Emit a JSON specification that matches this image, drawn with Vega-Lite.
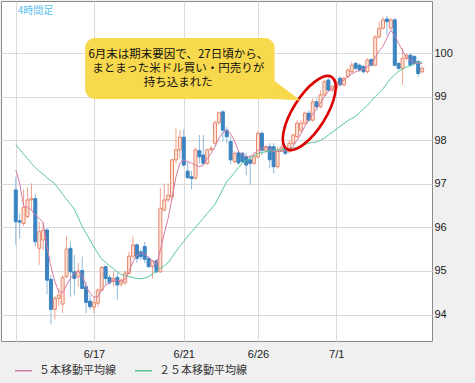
{
 "$schema": "https://vega.github.io/schema/vega-lite/v6.json",
 "width": 431, "height": 340,
 "autosize": {"type": "none"},
 "padding": {"left": 1, "top": 1, "right": 43, "bottom": 42},
 "background": "#f0f0f0",
 "config": {
  "view": {"fill": "#ffffff", "stroke": "#8c8c8c", "strokeWidth": 1},
  "axis": {"gridColor": "#dadada", "gridWidth": 1, "domain": false, "ticks": false, "labelFont": "Liberation Sans", "labelFontSize": 11, "labelColor": "#222222"},
  "legend": {"orient": "none", "legendX": 13, "legendY": 360, "direction": "horizontal", "symbolType": "stroke", "symbolSize": 289, "symbolStrokeWidth": 1.5, "labelFont": "Noto Sans CJK JP", "labelFontSize": 11, "labelColor": "#333333", "columnPadding": 16, "labelOffset": 6, "padding": 0}
 },
 "datasets": {
  "candles": [
   {"i":0,"o":96.86,"h":97.16,"l":95.60,"c":96.13,"m5":97.32,"m25":97.90},
   {"i":1,"o":96.15,"h":96.32,"l":95.75,"c":96.12,"m5":97.01,"m25":97.79},
   {"i":2,"o":96.09,"h":96.87,"l":96.03,"c":96.46,"m5":96.49,"m25":97.68},
   {"i":3,"o":96.25,"h":96.92,"l":96.21,"c":96.63,"m5":96.46,"m25":97.58},
   {"i":4,"o":96.63,"h":97.01,"l":96.40,"c":96.66,"m5":96.40,"m25":97.47},
   {"i":5,"o":96.66,"h":96.77,"l":95.56,"c":95.67,"m5":96.28,"m25":97.37},
   {"i":6,"o":95.52,"h":96.13,"l":95.14,"c":95.90,"m5":96.21,"m25":97.29},
   {"i":7,"o":95.71,"h":96.12,"l":95.48,"c":95.94,"m5":96.11,"m25":97.22},
   {"i":8,"o":95.94,"h":95.98,"l":94.47,"c":94.79,"m5":95.56,"m25":97.14},
   {"i":9,"o":94.81,"h":94.91,"l":93.78,"c":94.12,"m5":95.10,"m25":97.07},
   {"i":10,"o":94.12,"h":94.43,"l":93.89,"c":94.37,"m5":94.76,"m25":97.00},
   {"i":11,"o":94.37,"h":94.60,"l":94.20,"c":94.45,"m5":94.53,"m25":96.88},
   {"i":12,"o":94.24,"h":94.91,"l":94.03,"c":94.85,"m5":94.50,"m25":96.76},
   {"i":13,"o":94.87,"h":95.80,"l":94.83,"c":95.50,"m5":94.68,"m25":96.65},
   {"i":14,"o":95.52,"h":95.67,"l":94.41,"c":94.98,"m5":94.83,"m25":96.53},
   {"i":15,"o":94.98,"h":95.37,"l":94.45,"c":94.83,"m5":94.95,"m25":96.42},
   {"i":16,"o":94.87,"h":95.18,"l":94.64,"c":95.00,"m5":94.99,"m25":96.22},
   {"i":17,"o":95.01,"h":95.33,"l":94.58,"c":94.60,"m5":94.91,"m25":96.02},
   {"i":18,"o":94.64,"h":94.76,"l":94.03,"c":94.28,"m5":94.64,"m25":95.86},
   {"i":19,"o":94.31,"h":94.45,"l":94.11,"c":94.18,"m5":94.49,"m25":95.71},
   {"i":20,"o":94.17,"h":94.41,"l":94.03,"c":94.28,"m5":94.40,"m25":95.55},
   {"i":21,"o":94.26,"h":94.60,"l":94.18,"c":94.56,"m5":94.41,"m25":95.41},
   {"i":22,"o":94.56,"h":95.11,"l":94.53,"c":95.08,"m5":94.56,"m25":95.27},
   {"i":23,"o":95.10,"h":95.12,"l":94.68,"c":94.83,"m5":94.68,"m25":95.20},
   {"i":24,"o":94.85,"h":94.91,"l":94.68,"c":94.73,"m5":94.73,"m25":95.12},
   {"i":25,"o":94.76,"h":94.99,"l":94.64,"c":94.83,"m5":94.79,"m25":95.05},
   {"i":26,"o":94.85,"h":94.95,"l":94.34,"c":94.68,"m5":94.79,"m25":94.98},
   {"i":27,"o":94.70,"h":94.83,"l":94.64,"c":94.79,"m5":94.76,"m25":94.92},
   {"i":28,"o":94.73,"h":95.01,"l":94.68,"c":94.95,"m5":94.81,"m25":94.89},
   {"i":29,"o":94.95,"h":95.44,"l":94.91,"c":95.34,"m5":94.99,"m25":94.87},
   {"i":30,"o":95.34,"h":95.79,"l":95.29,"c":95.60,"m5":95.21,"m25":94.85},
   {"i":31,"o":95.60,"h":95.63,"l":95.18,"c":95.29,"m5":95.37,"m25":94.83},
   {"i":32,"o":95.44,"h":95.48,"l":95.25,"c":95.33,"m5":95.42,"m25":94.82},
   {"i":33,"o":95.56,"h":95.67,"l":95.18,"c":95.27,"m5":95.39,"m25":94.84},
   {"i":34,"o":95.29,"h":95.33,"l":95.06,"c":95.10,"m5":95.31,"m25":94.87},
   {"i":35,"o":95.10,"h":95.25,"l":94.83,"c":95.23,"m5":95.24,"m25":94.93},
   {"i":36,"o":95.23,"h":95.27,"l":94.95,"c":94.98,"m5":95.14,"m25":95.00},
   {"i":37,"o":94.98,"h":96.90,"l":94.96,"c":96.44,"m5":95.48,"m25":95.06},
   {"i":38,"o":96.40,"h":97.01,"l":96.36,"c":96.63,"m5":95.86,"m25":95.12},
   {"i":39,"o":96.63,"h":97.01,"l":96.59,"c":96.74,"m5":96.21,"m25":95.19},
   {"i":40,"o":96.70,"h":97.57,"l":96.63,"c":97.55,"m5":96.67,"m25":95.32},
   {"i":41,"o":97.55,"h":98.27,"l":97.47,"c":97.78,"m5":97.16,"m25":95.45},
   {"i":42,"o":97.78,"h":98.23,"l":97.58,"c":98.07,"m5":97.47,"m25":95.57},
   {"i":43,"o":98.07,"h":98.25,"l":97.39,"c":97.43,"m5":97.55,"m25":95.68},
   {"i":44,"o":97.29,"h":97.51,"l":97.11,"c":97.14,"m5":97.51,"m25":95.80},
   {"i":45,"o":97.16,"h":97.30,"l":96.87,"c":97.12,"m5":97.47,"m25":95.90},
   {"i":46,"o":97.13,"h":97.83,"l":97.09,"c":97.78,"m5":97.43,"m25":96.00},
   {"i":47,"o":97.76,"h":98.12,"l":97.47,"c":97.62,"m5":97.39,"m25":96.11},
   {"i":48,"o":97.66,"h":98.12,"l":97.43,"c":97.47,"m5":97.43,"m25":96.21},
   {"i":49,"o":97.47,"h":97.81,"l":97.43,"c":97.78,"m5":97.58,"m25":96.32},
   {"i":50,"o":97.79,"h":97.88,"l":97.74,"c":97.81,"m5":97.70,"m25":96.42},
   {"i":51,"o":97.93,"h":98.45,"l":97.88,"c":98.40,"m5":97.85,"m25":96.53},
   {"i":52,"o":98.40,"h":98.66,"l":98.36,"c":98.63,"m5":98.05,"m25":96.70},
   {"i":53,"o":98.65,"h":98.69,"l":97.97,"c":98.23,"m5":98.17,"m25":96.88},
   {"i":54,"o":98.23,"h":98.30,"l":97.93,"c":98.08,"m5":98.23,"m25":97.05},
   {"i":55,"o":97.97,"h":98.08,"l":97.45,"c":97.55,"m5":98.15,"m25":97.15},
   {"i":56,"o":97.51,"h":97.74,"l":97.47,"c":97.70,"m5":97.98,"m25":97.26},
   {"i":57,"o":97.71,"h":97.75,"l":97.43,"c":97.48,"m5":97.75,"m25":97.37},
   {"i":58,"o":97.70,"h":97.74,"l":97.47,"c":97.51,"m5":97.66,"m25":97.47},
   {"i":59,"o":97.62,"h":97.70,"l":97.20,"c":97.43,"m5":97.62,"m25":97.53},
   {"i":60,"o":97.55,"h":97.66,"l":96.97,"c":97.47,"m5":97.62,"m25":97.59},
   {"i":61,"o":97.47,"h":97.74,"l":97.43,"c":97.62,"m5":97.68,"m25":97.64},
   {"i":62,"o":97.62,"h":98.20,"l":97.58,"c":98.16,"m5":97.77,"m25":97.70},
   {"i":63,"o":98.16,"h":98.20,"l":97.66,"c":97.77,"m5":97.82,"m25":97.72},
   {"i":64,"o":97.77,"h":97.89,"l":97.70,"c":97.85,"m5":97.85,"m25":97.74},
   {"i":65,"o":97.85,"h":97.93,"l":97.35,"c":97.55,"m5":97.80,"m25":97.75},
   {"i":66,"o":97.85,"h":97.93,"l":97.24,"c":97.39,"m5":97.74,"m25":97.77},
   {"i":67,"o":97.39,"h":97.85,"l":97.35,"c":97.77,"m5":97.74,"m25":97.78},
   {"i":68,"o":97.77,"h":97.89,"l":97.74,"c":97.83,"m5":97.74,"m25":97.78},
   {"i":69,"o":97.83,"h":97.89,"l":97.66,"c":97.70,"m5":97.76,"m25":97.79},
   {"i":70,"o":97.74,"h":98.00,"l":97.70,"c":97.93,"m5":97.80,"m25":97.80},
   {"i":71,"o":97.93,"h":98.16,"l":97.89,"c":98.12,"m5":97.86,"m25":97.82},
   {"i":72,"o":98.08,"h":98.46,"l":98.04,"c":98.39,"m5":98.00,"m25":97.84},
   {"i":73,"o":98.23,"h":98.46,"l":98.16,"c":98.39,"m5":98.15,"m25":97.87},
   {"i":74,"o":98.39,"h":98.66,"l":98.35,"c":98.62,"m5":98.32,"m25":97.90},
   {"i":75,"o":98.62,"h":98.69,"l":98.42,"c":98.46,"m5":98.45,"m25":97.93},
   {"i":76,"o":98.46,"h":98.96,"l":98.42,"c":98.88,"m5":98.60,"m25":97.95},
   {"i":77,"o":98.88,"h":98.96,"l":98.69,"c":98.77,"m5":98.72,"m25":97.96},
   {"i":78,"o":98.77,"h":99.15,"l":98.73,"c":99.04,"m5":98.85,"m25":98.00},
   {"i":79,"o":99.04,"h":99.38,"l":99.00,"c":99.34,"m5":99.00,"m25":98.05},
   {"i":80,"o":99.38,"h":99.42,"l":99.12,"c":99.15,"m5":99.12,"m25":98.12},
   {"i":81,"o":99.15,"h":99.27,"l":99.10,"c":99.23,"m5":99.18,"m25":98.18},
   {"i":82,"o":99.20,"h":99.38,"l":99.15,"c":99.34,"m5":99.25,"m25":98.25},
   {"i":83,"o":99.42,"h":99.46,"l":99.23,"c":99.27,"m5":99.30,"m25":98.32},
   {"i":84,"o":99.27,"h":99.46,"l":99.23,"c":99.42,"m5":99.38,"m25":98.38},
   {"i":85,"o":99.46,"h":99.65,"l":99.42,"c":99.61,"m5":99.45,"m25":98.45},
   {"i":86,"o":99.57,"h":99.80,"l":99.53,"c":99.72,"m5":99.52,"m25":98.50},
   {"i":87,"o":99.76,"h":99.80,"l":99.61,"c":99.65,"m5":99.57,"m25":98.55},
   {"i":88,"o":99.72,"h":99.76,"l":99.57,"c":99.61,"m5":99.60,"m25":98.63},
   {"i":89,"o":99.69,"h":99.72,"l":99.53,"c":99.57,"m5":99.64,"m25":98.72},
   {"i":90,"o":99.57,"h":99.88,"l":99.53,"c":99.84,"m5":99.68,"m25":98.80},
   {"i":91,"o":99.85,"h":99.88,"l":99.69,"c":99.72,"m5":99.74,"m25":98.90},
   {"i":92,"o":99.72,"h":100.41,"l":99.69,"c":100.37,"m5":99.90,"m25":99.00},
   {"i":93,"o":100.37,"h":100.72,"l":100.33,"c":100.57,"m5":100.05,"m25":99.09},
   {"i":94,"o":100.57,"h":100.83,"l":100.53,"c":100.76,"m5":100.15,"m25":99.18},
   {"i":95,"o":100.78,"h":100.85,"l":100.41,"c":100.72,"m5":100.35,"m25":99.30},
   {"i":96,"o":100.57,"h":100.80,"l":100.53,"c":100.76,"m5":100.52,"m25":99.42},
   {"i":97,"o":100.76,"h":100.80,"l":99.69,"c":99.72,"m5":100.40,"m25":99.50},
   {"i":98,"o":99.76,"h":99.80,"l":99.61,"c":99.65,"m5":100.22,"m25":99.58},
   {"i":99,"o":99.65,"h":100.11,"l":99.27,"c":99.88,"m5":100.05,"m25":99.63},
   {"i":100,"o":99.88,"h":99.99,"l":99.84,"c":99.95,"m5":99.90,"m25":99.68},
   {"i":101,"o":99.95,"h":99.99,"l":99.69,"c":99.72,"m5":99.84,"m25":99.71},
   {"i":102,"o":99.92,"h":99.95,"l":99.72,"c":99.76,"m5":99.78,"m25":99.75},
   {"i":103,"o":99.80,"h":99.84,"l":99.46,"c":99.53,"m5":99.76,"m25":99.78},
   {"i":104,"o":99.57,"h":99.69,"l":99.53,"c":99.65,"m5":99.76,"m25":99.80}
  ],
  "ellipse": [{"i": 75.125, "p": 98.624}],
  "box": [{"i1": 17.75, "i2": 66.25, "p1": 100.344, "p2": 98.945}],
  "pointer": [{"i": 66.75, "p": 99.106}],
  "lines": [
   {"i": 41.6, "p": 99.954, "t": "6月末は期末要因で、27日頃から、\nまとまった米ドル買い・円売りが\n持ち込まれた"}
  ],
  "tag": [{"i": 0.5, "p": 100.975, "t": "4時間足"}]
 },
 "layer": [
  {
   "data": {"name": "candles"},
   "mark": {"type": "rule", "strokeWidth": 1},
   "encoding": {
    "x": {"field": "i", "type": "quantitative", "title": null, "scale": {"domain": [-2.5, 105.25], "nice": false, "zero": false},
          "axis": {"values": [0, 20, 43, 62, 82], "grid": true, "labelPadding": 7, "labelBaseline": "top", "labelFontSize": 11, "title": null,
                   "labelExpr": "datum.value == 20 ? '6/17' : datum.value == 43 ? '6/21' : datum.value == 62 ? '6/26' : datum.value == 82 ? '7/1' : ''"}},
    "y": {"field": "l", "type": "quantitative", "title": null, "scale": {"domain": [93.394, 101.193], "nice": false, "zero": false},
          "axis": {"orient": "right", "values": [94, 95, 96, 97, 98, 99, 100], "grid": true, "labelPadding": 2, "labelAlign": "left", "labelBaseline": "middle", "title": null}},
    "y2": {"field": "h"},
    "color": {"condition": {"test": "datum.c >= datum.o", "value": "#eea28e"}, "value": "#8dbbe0"}
   }
  },
  {
   "data": {"name": "candles"},
   "mark": {"type": "bar", "size": 3, "strokeWidth": 1},
   "encoding": {
    "x": {"field": "i", "type": "quantitative", "title": null},
    "y": {"field": "o", "type": "quantitative", "title": null},
    "y2": {"field": "c"},
    "fill": {"condition": {"test": "datum.c >= datum.o", "value": "#fde2d8"}, "value": "#3b84c1"},
    "stroke": {"condition": {"test": "datum.c >= datum.o", "value": "#e8876c"}, "value": "#3b84c1"}
   }
  },
  {
   "data": {"name": "candles"},
   "mark": {"type": "line", "strokeWidth": 1},
   "encoding": {
    "x": {"field": "i", "type": "quantitative", "title": null},
    "y": {"field": "m25", "type": "quantitative", "title": null},
    "color": {"datum": "２５本移動平均線", "type": "nominal", "scale": {"domain": ["５本移動平均線", "２５本移動平均線"], "range": ["#d47aa6", "#55c993"]}, "legend": {"title": null}}
   }
  },
  {
   "data": {"name": "candles"},
   "mark": {"type": "line", "strokeWidth": 1},
   "encoding": {
    "x": {"field": "i", "type": "quantitative", "title": null},
    "y": {"field": "m5", "type": "quantitative", "title": null},
    "color": {"datum": "５本移動平均線", "type": "nominal", "legend": {"title": null}}
   }
  },
  {
   "data": {"name": "ellipse"},
   "mark": {"type": "point", "filled": false, "stroke": "#dd0000", "strokeWidth": 2.6, "opacity": 1, "size": 7191, "angle": 32,
            "shape": "M 0 -1 C 0.2154 -1 0.39 -0.5523 0.39 0 C 0.39 0.5523 0.2154 1 0 1 C -0.2154 1 -0.39 0.5523 -0.39 0 C -0.39 -0.5523 -0.2154 -1 0 -1 Z"},
   "encoding": {
    "x": {"field": "i", "type": "quantitative", "title": null},
    "y": {"field": "p", "type": "quantitative", "title": null}
   }
  },
  {
   "data": {"name": "pointer"},
   "mark": {"type": "point", "filled": true, "fill": "#f8d84c", "strokeWidth": 0, "opacity": 1, "size": 2704,
            "shape": "M -1.077 0.212 L -0.231 -0.538 L 0.923 0.327 Z"},
   "encoding": {
    "x": {"field": "i", "type": "quantitative", "title": null},
    "y": {"field": "p", "type": "quantitative", "title": null}
   }
  },
  {
   "data": {"name": "box"},
   "mark": {"type": "rect", "fill": "#f8d84c", "cornerRadius": 10},
   "encoding": {
    "x": {"field": "i1", "type": "quantitative", "title": null},
    "x2": {"field": "i2"},
    "y": {"field": "p1", "type": "quantitative", "title": null},
    "y2": {"field": "p2"}
   }
  },
  {
   "data": {"name": "lines"},
   "mark": {"type": "text", "font": "Noto Sans CJK JP", "fontSize": 11.5, "color": "#111111", "align": "center", "baseline": "middle", "lineBreak": "\n", "lineHeight": 14},
   "encoding": {
    "x": {"field": "i", "type": "quantitative", "title": null},
    "y": {"field": "p", "type": "quantitative", "title": null},
    "text": {"field": "t"}
   }
  },
  {
   "data": {"name": "tag"},
   "mark": {"type": "text", "font": "Noto Sans CJK JP", "fontSize": 10, "color": "#5ec0f0", "align": "left", "baseline": "middle"},
   "encoding": {
    "x": {"field": "i", "type": "quantitative", "title": null},
    "y": {"field": "p", "type": "quantitative", "title": null},
    "text": {"field": "t"}
   }
  }
 ]
}
